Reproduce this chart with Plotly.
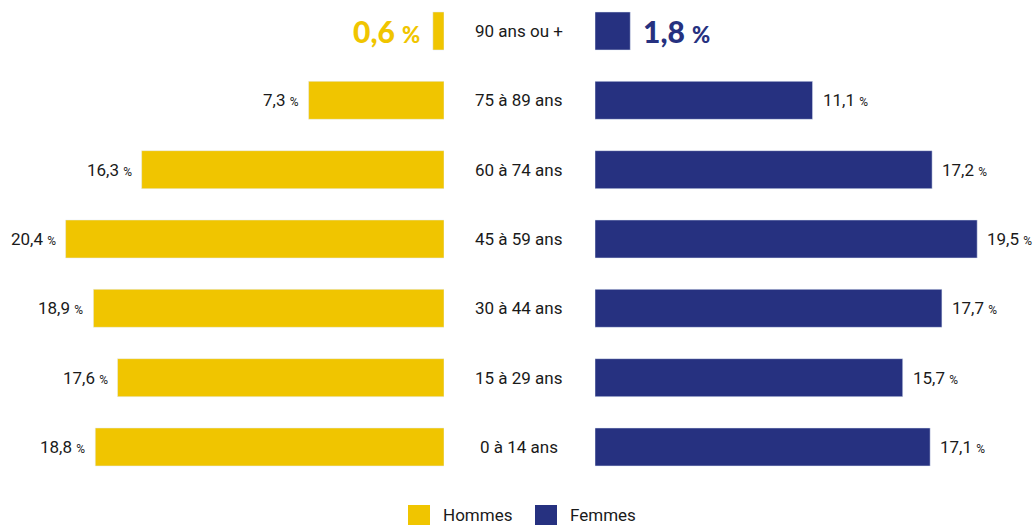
import plotly.graph_objects as go

categories = ["0 à 14 ans", "15 à 29 ans", "30 à 44 ans", "45 à 59 ans",
              "60 à 74 ans", "75 à 89 ans", "90 ans ou +"]
hommes = [18.8, 17.6, 18.9, 20.4, 16.3, 7.3, 0.6]
femmes = [17.1, 15.7, 17.7, 19.5, 17.2, 11.1, 1.8]
hommes_lbl = ["18,8", "17,6", "18,9", "20,4", "16,3", "7,3", "0,6"]
femmes_lbl = ["17,1", "15,7", "17,7", "19,5", "17,2", "11,1", "1,8"]

YELLOW = "#F0C500"
NAVY = "#263180"
TXT = "#1a1a1a"
NARROW = "Roboto, Liberation Sans, sans-serif"
BOLD = "Lato, Open Sans, sans-serif"

W, H = 1035, 528
MB = 46
HP = H - MB  # plot-area height in px
ypos = list(range(len(categories)))

fig = go.Figure()
fig.add_trace(go.Bar(x=hommes, y=ypos, orientation="h", marker_color=YELLOW,
                     name="Hommes", xaxis="x", yaxis="y", showlegend=False,
                     hoverinfo="skip"))
fig.add_trace(go.Bar(x=femmes, y=ypos, orientation="h", marker_color=NAVY,
                     name="Femmes", xaxis="x2", yaxis="y", showlegend=False,
                     hoverinfo="skip"))

annotations = []
n = len(categories)
for i in range(n):
    last = (i == n - 1)
    if last:
        htxt = f"{hommes_lbl[i]} <span style='font-size:22px'>%</span>"
        ftxt = f"{femmes_lbl[i]} <span style='font-size:22px'>%</span>"
        hfont = dict(family=BOLD, size=30, color=YELLOW, weight=900)
        ffont = dict(family=BOLD, size=30, color=NAVY, weight=900)
        shift = 11
    else:
        htxt = f"{hommes_lbl[i]} <span style='font-size:12px'>%</span>"
        ftxt = f"{femmes_lbl[i]} <span style='font-size:12px'>%</span>"
        hfont = dict(family=NARROW, size=17, color=TXT)
        ffont = dict(family=NARROW, size=17, color=TXT)
        shift = 8
    annotations.append(dict(x=hommes[i], y=i, xref="x", yref="y", text=htxt,
                            showarrow=False, xanchor="right", yanchor="middle",
                            xshift=-shift, font=hfont))
    annotations.append(dict(x=femmes[i], y=i, xref="x2", yref="y", text=ftxt,
                            showarrow=False, xanchor="left", yanchor="middle",
                            xshift=shift, font=ffont))
    annotations.append(dict(x=519 / W, y=i, xref="paper", yref="y",
                            text=categories[i], showarrow=False,
                            xanchor="center", yanchor="middle",
                            font=dict(family=NARROW, size=17, color=TXT)))

# manual legend (paper coords span the plot area: 0..HP px vertically)
legend_items = [("Hommes", YELLOW, 408), ("Femmes", NAVY, 535)]
shapes = []
ly = 515
for name, col, px in legend_items:
    shapes.append(dict(type="rect", xref="paper", yref="paper",
                       x0=px / W, x1=(px + 22) / W,
                       y0=1 - (ly + 10) / HP, y1=1 - (ly - 10) / HP,
                       fillcolor=col, line=dict(width=0), layer="above"))
    annotations.append(dict(x=(px + 33) / W, y=1 - ly / HP, xref="paper",
                            yref="paper", text=name, showarrow=False,
                            xanchor="left", yanchor="middle",
                            font=dict(family=NARROW, size=17, color=TXT)))

fig.update_layout(
    width=W, height=H,
    margin=dict(l=0, r=0, t=0, b=MB),
    paper_bgcolor="white", plot_bgcolor="white",
    bargap=0.452,
    xaxis=dict(domain=[0, 444 / W], range=[444 / 18.55, 0], visible=False,
               fixedrange=True),
    xaxis2=dict(domain=[595 / W, 1], range=[0, 440 / 19.6], visible=False,
                fixedrange=True),
    yaxis=dict(range=[-0.505, 6.447], visible=False, fixedrange=True),
    annotations=annotations,
    shapes=shapes,
    showlegend=False,
)

fig.write_html("out.html", config={"displayModeBar": False},
               post_script="document.body.style.margin='0';document.body.style.overflow='hidden';")
